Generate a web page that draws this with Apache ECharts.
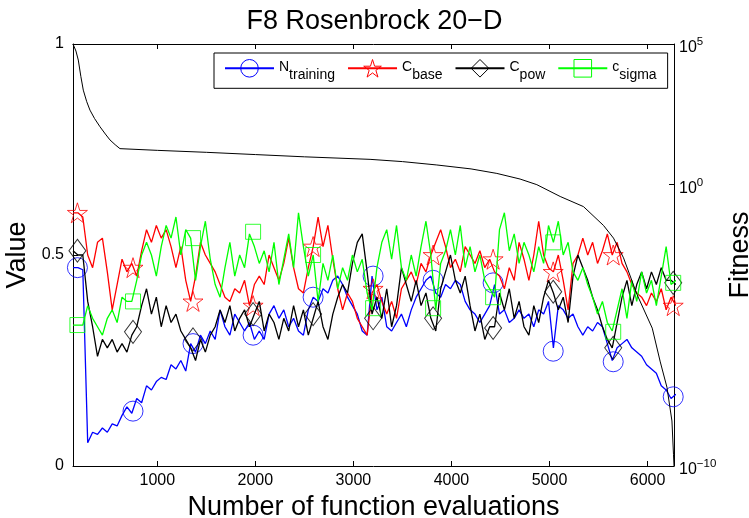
<!DOCTYPE html>
<html lang="en">
<head>
<meta charset="UTF-8">
<title>F8 Rosenbrock 20-D</title>
<script src="https://cdn.jsdelivr.net/npm/echarts@6/dist/echarts.min.js"></script>
<style>
    html, body { margin: 0; padding: 0; background: #fff; }
    #main { width: 749px; height: 518px; }
</style>
</head>
<body>
<div id="main"></div>
<script>
// evaluations: one sample every 50 evaluations, starting at 140
var evalStart = 140;
var evalStep = 50;

var nTraining = [
    0.47, 0.47, 0.465, 0.055, 0.08, 0.075, 0.09, 0.08, 0.1, 0.095,
    0.12, 0.14, 0.125, 0.16, 0.15, 0.19, 0.18, 0.2, 0.21, 0.205,
    0.24, 0.23, 0.25, 0.225, 0.29, 0.27, 0.31, 0.29, 0.32, 0.3,
    0.37, 0.33, 0.31, 0.36, 0.34, 0.32, 0.34, 0.3, 0.32, 0.3,
    0.36, 0.38, 0.35, 0.37, 0.33, 0.35, 0.32, 0.31, 0.37, 0.4,
    0.39, 0.42, 0.41, 0.44, 0.45, 0.43, 0.4, 0.38, 0.36, 0.32,
    0.31, 0.45, 0.37, 0.4, 0.33, 0.32, 0.34, 0.36, 0.33, 0.37,
    0.4, 0.42, 0.44, 0.45, 0.41, 0.4, 0.43, 0.42, 0.44, 0.43,
    0.39, 0.37, 0.36, 0.34, 0.36, 0.38, 0.43, 0.36, 0.37, 0.34,
    0.35, 0.37, 0.35, 0.36, 0.33, 0.37, 0.36, 0.39, 0.28, 0.38,
    0.37, 0.35, 0.36, 0.33, 0.31, 0.33, 0.32, 0.34, 0.33, 0.29,
    0.25, 0.28, 0.29, 0.3, 0.28, 0.27, 0.26, 0.24, 0.23, 0.22,
    0.19, 0.18, 0.16, 0.17
];

var cBase = [
    0.6, 0.6, 0.59, 0.5, 0.47, 0.53, 0.54, 0.46, 0.37, 0.43,
    0.49, 0.46, 0.48, 0.45, 0.51, 0.56, 0.53, 0.57, 0.54, 0.56,
    0.52, 0.47, 0.52, 0.44, 0.39, 0.45, 0.53, 0.5, 0.48, 0.46,
    0.43, 0.4, 0.39, 0.42, 0.41, 0.44, 0.38, 0.43, 0.45, 0.43,
    0.5, 0.47, 0.44, 0.48, 0.54, 0.47, 0.42, 0.41, 0.47, 0.52,
    0.59, 0.52, 0.57, 0.49, 0.42, 0.37, 0.41, 0.39, 0.35, 0.33,
    0.31, 0.41, 0.43, 0.39, 0.36, 0.39, 0.35, 0.42, 0.44, 0.46,
    0.43, 0.48, 0.46, 0.5, 0.53, 0.56, 0.52, 0.47, 0.49, 0.46,
    0.52, 0.5, 0.48, 0.51, 0.47, 0.49, 0.46, 0.45, 0.42, 0.47,
    0.44, 0.53, 0.49, 0.44, 0.5, 0.58, 0.5, 0.47, 0.46, 0.5,
    0.44, 0.37, 0.48, 0.5, 0.54, 0.5, 0.53, 0.48, 0.51, 0.55,
    0.5, 0.53, 0.48, 0.46, 0.43, 0.41, 0.4, 0.38, 0.41, 0.39,
    0.42, 0.37, 0.4, 0.38
];

var cPow = [
    0.51, 0.5, 0.5, 0.39, 0.33, 0.26, 0.3, 0.28, 0.3, 0.27,
    0.29, 0.27, 0.31, 0.33, 0.38, 0.42, 0.36, 0.4, 0.33, 0.38,
    0.34, 0.36, 0.32, 0.3, 0.28, 0.25, 0.3, 0.27, 0.31, 0.33,
    0.37, 0.34, 0.38, 0.32, 0.35, 0.37, 0.33, 0.36, 0.39, 0.32,
    0.36, 0.34, 0.3, 0.35, 0.32, 0.38, 0.33, 0.37, 0.31, 0.35,
    0.39, 0.33, 0.3, 0.36, 0.4, 0.43, 0.41, 0.48, 0.53, 0.55,
    0.46, 0.36, 0.4, 0.35, 0.42, 0.33, 0.38, 0.47, 0.43, 0.39,
    0.44, 0.38, 0.41, 0.35, 0.32, 0.42, 0.46, 0.5, 0.44, 0.41,
    0.45, 0.38, 0.32, 0.36, 0.3, 0.33, 0.33, 0.41, 0.37, 0.42,
    0.35, 0.39, 0.33, 0.31, 0.38, 0.34, 0.4, 0.44, 0.41, 0.37,
    0.4, 0.34, 0.45, 0.5, 0.47, 0.44, 0.4, 0.37, 0.33, 0.3,
    0.28, 0.34, 0.4, 0.44, 0.38, 0.43, 0.46, 0.42, 0.46, 0.43,
    0.47, 0.44, 0.44, 0.43
];

var cSigma = [
    0.334, 0.334, 0.334, 0.38, 0.35, 0.33, 0.31, 0.35, 0.37, 0.34,
    0.4, 0.39, 0.39, 0.44, 0.5, 0.53, 0.5, 0.45, 0.52, 0.57,
    0.54, 0.59, 0.5, 0.56, 0.54, 0.44, 0.52, 0.58, 0.49, 0.43,
    0.4, 0.47, 0.53, 0.45, 0.5, 0.47, 0.55, 0.52, 0.48, 0.51,
    0.46, 0.53, 0.43, 0.49, 0.55, 0.47, 0.6, 0.52, 0.45, 0.5,
    0.39, 0.48, 0.44, 0.5, 0.42, 0.47, 0.44, 0.5, 0.46, 0.49,
    0.41, 0.37, 0.47, 0.53, 0.56, 0.49, 0.57, 0.47, 0.44, 0.5,
    0.45, 0.52, 0.58, 0.5, 0.37, 0.48, 0.51, 0.56, 0.5, 0.57,
    0.47, 0.52, 0.46, 0.5, 0.44, 0.42, 0.4, 0.56, 0.6, 0.51,
    0.55, 0.48, 0.53, 0.5, 0.46, 0.52, 0.48, 0.57, 0.53, 0.58,
    0.5, 0.53, 0.46, 0.44, 0.47, 0.43, 0.4, 0.36, 0.39, 0.34,
    0.32, 0.37, 0.42, 0.35, 0.44, 0.39, 0.46, 0.41, 0.44, 0.38,
    0.45, 0.52, 0.43, 0.44
];

// marker positions (every ~612 evaluations)
var markerEvals = [185, 752, 1364, 1977, 2589, 3201, 3813, 4425, 5038, 5650, 6262];
var nTrainingMarks = [0.47, 0.13, 0.29, 0.31, 0.4, 0.45, 0.44, 0.434, 0.272, 0.247, 0.164];
var cBaseMarks = [0.6, 0.47, 0.39, 0.38, 0.52, 0.42, 0.5, 0.49, 0.46, 0.5, 0.38];
var cPowMarks = [0.51, 0.318, 0.3, 0.36, 0.36, 0.35, 0.35, 0.327, 0.413, 0.28, 0.434];
var cSigmaMarks = [0.334, 0.39, 0.54, 0.555, 0.5, 0.374, 0.374, 0.4, 0.53, 0.318, 0.434];

// best fitness (log10) on the right axis
var fitnessEvals = [140, 170, 194, 220, 245, 280, 313, 360, 415, 470, 517, 570, 619, 1000, 1500, 2000, 2500, 3170, 3500, 3851, 4200, 4463, 4700, 4871, 5109, 5347, 5551, 5653, 5755, 5892, 6048, 6130, 6198, 6249, 6265, 6270];
var fitnessLog10 = [5.0, 4.75, 4.43, 3.85, 3.36, 2.95, 2.65, 2.35, 2.06, 1.8, 1.59, 1.42, 1.28, 1.22, 1.15, 1.07, 0.99, 0.9, 0.82, 0.7, 0.56, 0.4, 0.2, 0.0, -0.42, -0.78, -1.45, -1.9, -2.6, -3.9, -5.1, -6.3, -7.2, -8.4, -9.6, -10];

var xTicks = [1000, 2000, 3000, 4000, 5000, 6000];
var fitnessTicks = [-10, 0, 5];

var FONT = '"Liberation Sans", Arial, Helvetica, sans-serif';
var xMin = 140, xMax = 6270;
var STAR = 'path://M50 0 L61.2 34.5 L97.6 34.5 L68.2 55.9 L79.4 90.5 L50 69.1 L20.6 90.5 L31.8 55.9 L2.4 34.5 L38.8 34.5 Z';

function pairs(xs, ys) {
    return ys.map(function (v, i) { return [xs[i], v]; });
}

var evals = nTraining.map(function (_, i) { return evalStart + i * evalStep; });

var params = [
    { name: 'N_training', values: nTraining, marks: nTrainingMarks, color: '#0000ff', symbol: 'circle', size: 20 },
    { name: 'C_base', values: cBase, marks: cBaseMarks, color: '#ff0000', symbol: STAR, size: 20 },
    { name: 'C_pow', values: cPow, marks: cPowMarks, color: '#000000', symbol: 'diamond', size: [17, 23] },
    { name: 'c_sigma', values: cSigma, marks: cSigmaMarks, color: '#00ff00', symbol: 'rect', size: 15 }
];

var series = [];
params.forEach(function (p, i) {
    var markStyle = { color: 'rgba(0,0,0,0)', borderColor: p.color, borderWidth: 1 };
    series.push({
        type: 'line', name: p.name, data: pairs(evals, p.values),
        showSymbol: false, symbol: p.symbol, symbolSize: p.size,
        lineStyle: { color: p.color, width: 1.3 }, itemStyle: markStyle,
        silent: true, z: 2 + i
    });
    series.push({
        type: 'scatter', name: p.name + ' markers', data: pairs(markerEvals, p.marks),
        symbol: p.symbol, symbolSize: p.size, itemStyle: markStyle,
        silent: true, z: 2 + i
    });
});
series.push({
    type: 'line', name: 'Fitness', yAxisIndex: 1, data: pairs(fitnessEvals, fitnessLog10),
    showSymbol: false, symbol: 'none', lineStyle: { color: '#000', width: 1 },
    silent: true, z: 10
});

var axisLine = { show: true, onZero: false, lineStyle: { color: '#000', width: 1 } };
var tickStyle = { show: true, inside: true, length: 5, lineStyle: { color: '#000' } };

var option = {
    animation: false,
    backgroundColor: '#fff',
    title: {
        text: 'F8 Rosenbrock 20\u2212D', left: 'center', top: 3,
        textStyle: { fontFamily: FONT, fontSize: 27, fontWeight: 'normal', color: '#000' }
    },
    legend: {
        data: params.map(function (p) { return p.name; }),
        left: 214, top: 53,
        itemWidth: 49, itemHeight: 22, itemGap: 12,
        padding: [6, 11, 6, 10],
        borderColor: '#000', borderWidth: 1, borderRadius: 0, backgroundColor: '#fff',
        selectedMode: false,
        itemStyle: { borderWidth: 1 },
        formatter: function (name) {
            var parts = name.split('_');
            return '{m|' + parts[0] + '}{s|' + parts[1] + '}';
        },
        textStyle: {
            fontFamily: FONT, color: '#000', fontSize: 14,
            rich: {
                m: { fontFamily: FONT, fontSize: 14, lineHeight: 16, verticalAlign: 'top', color: '#000' },
                s: { fontFamily: FONT, fontSize: 14, lineHeight: 16, padding: [8, 0, 0, 0], verticalAlign: 'top', color: '#000' }
            }
        }
    },
    grid: { left: 73, right: 75, top: 44, bottom: 52, containLabel: false, outerBoundsMode: 'none' },
    xAxis: [{
        type: 'value', min: xMin, max: xMax,
        name: 'Number of function evaluations', nameLocation: 'middle', nameGap: 28,
        nameTextStyle: { fontFamily: FONT, fontSize: 27, color: '#000' },
        axisLine: axisLine,
        axisTick: Object.assign({ customValues: xTicks }, tickStyle),
        axisLabel: {
            customValues: xTicks, fontFamily: FONT, fontSize: 16, color: '#000', margin: 7,
            formatter: function (v) { return String(v); }
        },
        splitLine: { show: false }
    }, {
        type: 'value', position: 'top', min: xMin, max: xMax,
        axisLine: axisLine,
        axisTick: Object.assign({ customValues: xTicks }, tickStyle),
        axisLabel: { show: false },
        splitLine: { show: false }
    }],
    yAxis: [{
        type: 'value', min: 0, max: 1, interval: 0.5,
        name: 'Value', nameLocation: 'middle', nameGap: 36,
        nameTextStyle: { fontFamily: FONT, fontSize: 27, color: '#000' },
        axisLine: axisLine, axisTick: tickStyle,
        axisLabel: { fontFamily: FONT, fontSize: 16, color: '#000', margin: 9 },
        splitLine: { show: false }
    }, {
        type: 'value', min: -10, max: 5, position: 'right',
        name: 'Fitness', nameLocation: 'middle', nameGap: 42,
        nameTextStyle: { fontFamily: FONT, fontSize: 27, color: '#000' },
        axisLine: axisLine,
        axisTick: Object.assign({ customValues: fitnessTicks }, tickStyle),
        axisLabel: {
            customValues: fitnessTicks, margin: 5, color: '#000',
            formatter: function (v) {
                var e = v < 0 ? '\u2212' + (-v) : String(v);
                return '{b|10}{e|' + e + '}';
            },
            rich: {
                b: { fontFamily: FONT, fontSize: 16, lineHeight: 16, padding: [4, 0, 0, 0], verticalAlign: 'top', color: '#000' },
                e: { fontFamily: FONT, fontSize: 11.5, lineHeight: 12, verticalAlign: 'top', color: '#000' }
            }
        },
        splitLine: { show: false }
    }],
    series: series
};

var chart = echarts.init(document.getElementById('main'), null, { renderer: 'canvas' });
chart.setOption(option);
</script>
</body>
</html>
